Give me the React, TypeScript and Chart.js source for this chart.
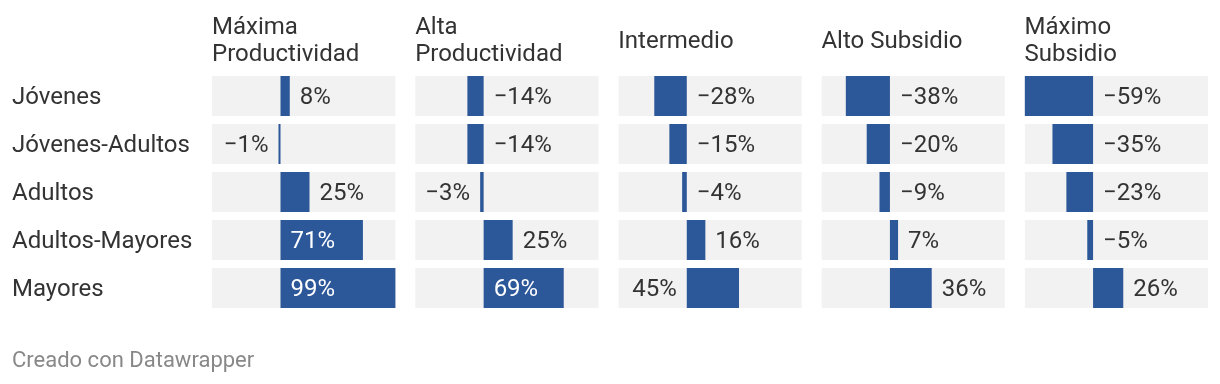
import React, { useEffect, useRef } from "react";
import { Chart, registerables } from "chart.js";

Chart.register(...registerables);

// ---- data ----
const rowLabels = ["Jóvenes", "Jóvenes-Adultos", "Adultos", "Adultos-Mayores", "Mayores"];
const panelTitles: string[][] = [
  ["Máxima", "Productividad"],
  ["Alta", "Productividad"],
  ["Intermedio"],
  ["Alto Subsidio"],
  ["Máximo", "Subsidio"],
];
const maximaProductividad = [8, -1, 25, 71, 99];
const altaProductividad = [-14, -14, -3, 25, 69];
const intermedio = [-28, -15, -4, 16, 45];
const altoSubsidio = [-38, -20, -9, 7, 36];
const maximoSubsidio = [-59, -35, -23, -5, 26];
const panelValues = [maximaProductividad, altaProductividad, intermedio, altoSubsidio, maximoSubsidio];
const axisMin = -59;
const axisMax = 99;
const footerText = "Creado con Datawrapper";

// ---- styles ----
const FONT = "Roboto";
const TEXT = "#333333";
const BLUE = "#2c5798";
const CELL = "#f2f2f2";
const GAP_UNITS = 17;
const LABEL_SIZE = 24;
const FOOTER_SIZE = 22;
const LABEL_PAD = 10;
const OUTSIDE_NEED = 19.8; // extra room (beyond text width) needed to put a label past the bar end

const fmt = (v: number) => (v < 0 ? "\u2212" + Math.abs(v) : String(v)) + "%";

const valueLabelPlugin = {
  id: "valueLabels",
  afterDatasetsDraw(chart: any) {
    const ctx = chart.ctx;
    ctx.save();
    ctx.font = `${LABEL_SIZE}px ${FONT}`;
    ctx.textBaseline = "middle";
    panelValues.forEach((vals, p) => {
      const scale = chart.scales["x" + p];
      const pl = scale.getPixelForValue(axisMin);
      const pr = scale.getPixelForValue(axisMax);
      const meta = chart.getDatasetMeta(p);
      meta.data.forEach((bar: any, j: number) => {
        const v = vals[j];
        const txt = fmt(v);
        const w = ctx.measureText(txt).width;
        const x = bar.x;
        const base = bar.base;
        const len = Math.abs(x - base);
        let tx: number;
        let align: CanvasTextAlign;
        let color = TEXT;
        if (v >= 0) {
          if (pr - x >= w + OUTSIDE_NEED) {
            tx = x + LABEL_PAD; align = "left";
          } else if (len >= w + 2 * LABEL_PAD) {
            tx = base + LABEL_PAD; align = "left"; color = "#ffffff";
          } else {
            tx = base - LABEL_PAD; align = "right";
          }
        } else {
          if (x - pl >= w + OUTSIDE_NEED) {
            tx = x - LABEL_PAD; align = "right";
          } else if (len >= w + 2 * LABEL_PAD) {
            tx = base - LABEL_PAD; align = "right"; color = "#ffffff";
          } else {
            tx = base + LABEL_PAD; align = "left";
          }
        }
        ctx.fillStyle = color;
        ctx.textAlign = align;
        ctx.fillText(txt, tx, bar.y + 1.5);
      });
    });
    ctx.restore();
  },
};

export default function App() {
  const canvasRef = useRef<HTMLCanvasElement | null>(null);

  useEffect(() => {
    let chart: Chart | null = null;
    let cancelled = false;
    const build = () => {
      if (cancelled || !canvasRef.current) return;
      Chart.defaults.font.family = FONT;

      const valueSets = panelValues.map((vals, p) => ({
        label: panelTitles[p].join(" "),
        data: vals,
        xAxisID: "x" + p,
        yAxisID: "y",
        backgroundColor: BLUE,
        borderWidth: 0,
        grouped: false,
        order: 0,
        barPercentage: 40 / 48,
        categoryPercentage: 1,
        minBarLength: 2,
      }));
      const cellSets = panelValues.map((vals, p) => ({
        label: "fondo " + p,
        data: vals.map(() => [axisMin, axisMax]),
        xAxisID: "x" + p,
        yAxisID: "y",
        backgroundColor: CELL,
        borderWidth: 0,
        grouped: false,
        order: 1,
        barPercentage: 40 / 48,
        categoryPercentage: 1,
      }));

      const scales: any = {
        y: {
          type: "category",
          position: "left",
          grid: { display: false },
          border: { display: false },
          ticks: {
            crossAlign: "far",
            color: TEXT,
            font: { family: FONT, size: LABEL_SIZE },
            padding: 0,
            labelOffset: 1.5,
          },
          afterFit: (s: any) => {
            s.width = 200;
          },
        },
      };
      panelTitles.forEach((lines, p) => {
        const last = p === panelTitles.length - 1;
        scales["x" + p] = {
          type: "linear",
          position: "top",
          stack: "panels",
          weight: panelTitles.length - p,
          stackWeight: last ? axisMax - axisMin : axisMax - axisMin + GAP_UNITS,
          min: axisMin,
          max: last ? axisMax : axisMax + GAP_UNITS,
          grid: { display: false },
          border: { display: false },
          ticks: { display: false },
          title: {
            display: true,
            text: lines,
            align: "start",
            color: TEXT,
            font: { family: FONT, size: LABEL_SIZE, lineHeight: 1.1375 },
            padding: { top: lines.length === 1 ? 14 : 0, bottom: 0 },
          },
          afterFit: (s: any) => {
            s.height = 58;
          },
        };
      });

      chart = new Chart(canvasRef.current, {
        type: "bar",
        data: { labels: rowLabels, datasets: [...valueSets, ...cellSets] as any },
        options: {
          indexAxis: "y",
          animation: false,
          responsive: true,
          maintainAspectRatio: false,
          events: [],
          layout: { padding: { left: 12, right: 12, top: 14, bottom: 9.8 } },
          scales,
          plugins: {
            legend: { display: false },
            tooltip: { enabled: false },
            title: {
              display: true,
              position: "bottom",
              align: "start",
              text: footerText,
              color: "#888888",
              font: { family: FONT, size: FOOTER_SIZE, weight: "normal", lineHeight: 1.2 },
              padding: { top: 35.8, bottom: 0 },
            },
          },
        },
        plugins: [valueLabelPlugin],
      });
    };
    const f: any = (document as any).fonts;
    if (f && f.load) {
      Promise.all([f.load(`${LABEL_SIZE}px ${FONT}`), f.load(`${FOOTER_SIZE}px ${FONT}`)])
        .catch(() => null)
        .then(build);
    } else {
      build();
    }
    return () => {
      cancelled = true;
      if (chart) chart.destroy();
    };
  }, []);

  return (
    <div style={{ position: "fixed", left: 0, top: 0, width: 1220, height: 384, background: "#fff" }}>
      <canvas ref={canvasRef} />
    </div>
  );
}
